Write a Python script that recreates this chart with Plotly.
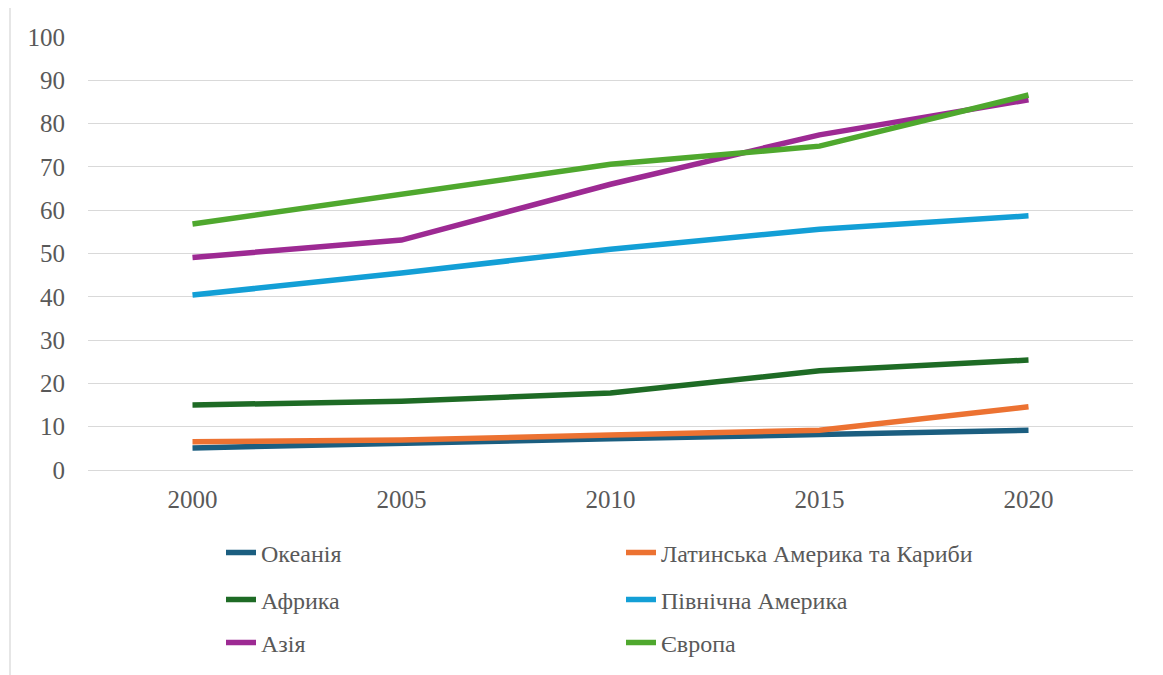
import plotly.graph_objects as go

years = ["2000", "2005", "2010", "2015", "2020"]
oceania = [5.1, 6.0, 7.2, 8.2, 9.2]
latam = [6.5, 6.9, 8.1, 9.2, 14.6]
africa = [15.0, 15.9, 17.8, 22.9, 25.4]
north_america = [40.4, 45.5, 51.0, 55.6, 58.7]
asia = [49.1, 53.1, 66.0, 77.4, 85.5]
europe = [56.8, 63.7, 70.6, 74.8, 86.6]

names = ["Океанія", "Латинська Америка та Кариби", "Африка",
         "Північна Америка", "Азія", "Європа"]
series = [oceania, latam, africa, north_america, asia, europe]
colors = ["#1B5E80", "#EC7232", "#1E6B25", "#139FD6", "#9D2A93", "#4FA82E"]
legends = ["legend", "legend", "legend2", "legend2", "legend3", "legend3"]

OFF = 8  # page offset of the figure
W, H = 1163, 675
PW, PH = 1045, 433
ML, MT = 88 - OFF, 37 - OFF
MR = W - ML - PW
MB = H - MT - PH

def px_x(p):
    return (p - OFF - ML) / PW

def px_y(p):
    return (MT + PH - (p - OFF)) / PH

fig = go.Figure()
for n, s, c, lg in zip(names, series, colors, legends):
    fig.add_trace(go.Scatter(x=years, y=s, name=n, mode="lines",
                             line=dict(color=c, width=5.5), legend=lg))

font_family = "'Liberation Serif', 'DejaVu Serif', serif"
txt = "#595959"
leg_common = dict(orientation="h", entrywidth=355, entrywidthmode="pixels",
                  xanchor="left", yanchor="middle",
                  font=dict(family=font_family, size=24, color=txt),
                  bgcolor="rgba(0,0,0,0)", itemwidth=30)

fig.update_layout(
    width=W, height=H,
    margin=dict(l=ML, r=MR, t=MT, b=MB),
    paper_bgcolor="white", plot_bgcolor="white",
    font=dict(family=font_family, color=txt),
    legend=dict(x=px_x(221), y=px_y(553), **leg_common),
    legend2=dict(x=px_x(221), y=px_y(600), **leg_common),
    legend3=dict(x=px_x(221), y=px_y(643), **leg_common),
    xaxis=dict(type="category", range=[-0.5, 4.5], showgrid=False,
               showline=False, zeroline=False, ticks="outside", ticklen=7,
               tickcolor="rgba(0,0,0,0)",
               tickfont=dict(family=font_family, size=25, color=txt)),
    yaxis=dict(range=[0, 100], dtick=10, showgrid=True, gridcolor="#D9D9D9",
               gridwidth=1.3, zeroline=True, zerolinecolor="#D9D9D9",
               zerolinewidth=1.3, showline=False, ticks="outside", ticklen=17,
               tickcolor="rgba(0,0,0,0)",
               tickfont=dict(family=font_family, size=25, color=txt)),
    shapes=[dict(type="rect", xref="paper", yref="paper",
                 x0=px_x(10), x1=px_x(1161), y0=px_y(700), y1=px_y(7),
                 line=dict(color="#D9D9D9", width=1.3), layer="below")],
)

fig.write_html("out.html")
